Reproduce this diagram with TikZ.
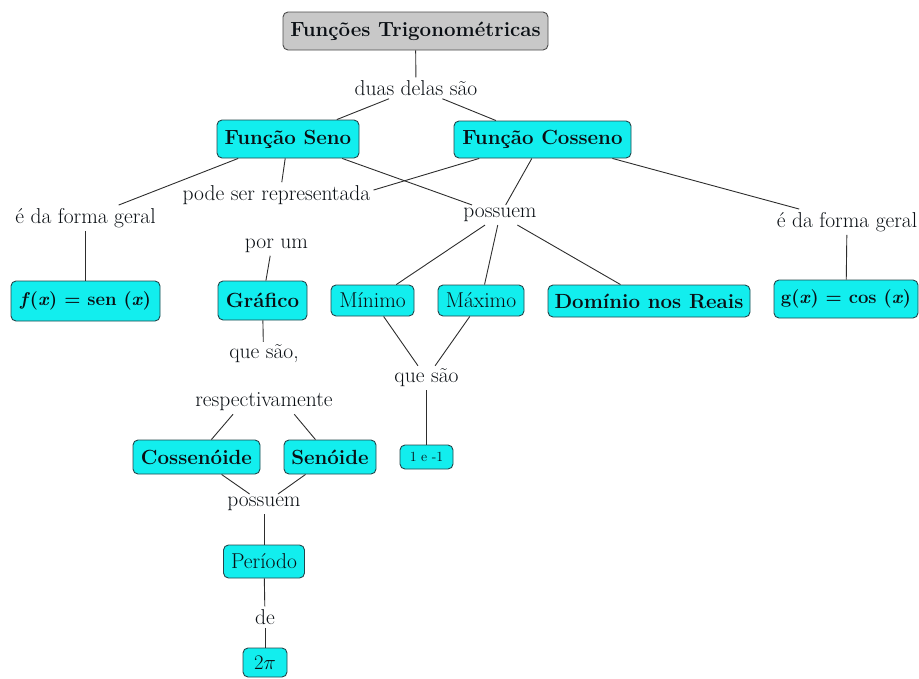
\documentclass[tikz,border=0pt]{standalone}
\usepackage{fontspec}
\newcommand\mapfs{\fontsize{21.5}{25}\selectfont}
\newcommand\boldfs{\fontsize{20.5}{24}\selectfont\bfseries}
\newcommand\eqfs{\fontsize{18.5}{22}\selectfont\bfseries}
\newcommand\smallfs{\fontsize{14}{16}\selectfont}
\definecolor{cyanf}{RGB}{18,238,238}
\definecolor{grayf}{RGB}{200,200,200}
\definecolor{bordc}{RGB}{35,70,75}
\definecolor{linec}{RGB}{45,45,45}
\definecolor{txt}{RGB}{10,15,20}
\tikzset{
  concept/.style={draw=bordc, fill=cyanf, rounded corners=5pt, line width=0.9pt,
    inner sep=0pt, font=\boldfs, text=txt},
  cplain/.style={concept, font=\mapfs},
  lab/.style={inner sep=3pt, font=\mapfs, text=txt, align=center},
  conn/.style={draw=linec, line width=0.9pt}
}
\begin{document}
\begin{tikzpicture}[x=1pt,y=-1pt]
\useasboundingbox (0,0) rectangle (919,678);
% concepts
\node[concept, fill=grayf, draw=black!70, minimum width=265pt, minimum height=38pt] (top) at (415.5,31) {Funções Trigonométricas};
\node[concept, minimum width=142pt, minimum height=38pt] (seno) at (288,139) {Função Seno};
\node[concept, minimum width=177pt, minimum height=37pt] (cos) at (542.5,139.5) {Função Cosseno};
\node[concept, font=\eqfs, minimum width=149pt, minimum height=40pt] (fx) at (85.5,301) {\textit{f}(\textit{x}) = sen (\textit{x})};
\node[concept, minimum width=89pt, minimum height=39pt] (graf) at (262.5,300.5) {Gráfico};
\node[cplain, minimum width=83pt, minimum height=31pt] (min) at (372.5,300.5) {Mínimo};
\node[cplain, minimum width=86pt, minimum height=31pt] (max) at (481,300.5) {Máximo};
\node[concept, minimum width=202pt, minimum height=32pt] (dom) at (649,301) {Domínio nos Reais};
\node[concept, font=\eqfs, minimum width=144pt, minimum height=38pt] (gx) at (846,299) {g(\textit{x}) = cos (\textit{x})};
\node[cplain, font=\smallfs, minimum width=53pt, minimum height=24pt] (um) at (426.5,457) {1 e -1};
\node[concept, minimum width=127pt, minimum height=34pt] (cosoide) at (196.5,457) {Cossenóide};
\node[concept, minimum width=92pt, minimum height=34pt] (senoide) at (330,457) {Senóide};
\node[cplain, minimum width=81pt, minimum height=33pt] (per) at (264,561.5) {Período};
\node[cplain, minimum width=44pt, minimum height=29pt] (pi) at (265,662.5) {$2\pi$};
% linking phrases
\node[lab] (duas) at (416,88) {duas delas são};
\node[lab] (formaL) at (85.5,218) {é da forma geral};
\node[lab] (pode) at (276.5,219) {pode ser representada\\[23pt]por um};
\node[lab] (poss1) at (500,215) {possuem};
\node[lab] (formaR) at (847,222) {é da forma geral};
\node[lab] (resp) at (264,378) {que são,\\[23pt]respectivamente};
\node[lab] (quesao) at (426.5,378) {que são};
\node[lab] (poss2) at (264,504) {possuem};
\node[lab] (de) at (265,617) {de};
% connectors
\draw[conn] (top) -- (duas);
\draw[conn] (duas) -- (seno);
\draw[conn] (duas) -- (cos);
\draw[conn] (seno) -- (formaL);
\draw[conn] (seno) -- (pode);
\draw[conn] (seno) -- (poss1);
\draw[conn] (cos) -- (pode);
\draw[conn] (cos) -- (poss1);
\draw[conn] (cos) -- (formaR);
\draw[conn] (formaL) -- (fx);
\draw[conn] (formaR) -- (gx);
\draw[conn] (pode) -- (graf);
\draw[conn] (poss1) -- (min);
\draw[conn] (poss1) -- (max);
\draw[conn] (poss1) -- (dom);
\draw[conn] (min) -- (quesao);
\draw[conn] (max) -- (quesao);
\draw[conn] (quesao) -- (um);
\draw[conn] (graf) -- (resp);
\draw[conn] (resp) -- (cosoide);
\draw[conn] (resp) -- (senoide);
\draw[conn] (cosoide) -- (poss2);
\draw[conn] (senoide) -- (poss2);
\draw[conn] (poss2) -- (per);
\draw[conn] (per) -- (de);
\draw[conn] (de) -- (pi);
\end{tikzpicture}
\end{document}
